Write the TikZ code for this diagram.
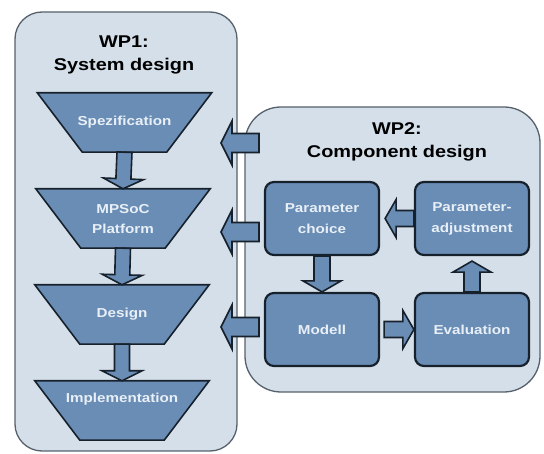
\documentclass[tikz,border=0pt]{standalone}
\usepackage{fontspec}
\setmainfont{Liberation Sans}[FakeStretch=1.17]
\usetikzlibrary{calc}
\pgfdeclarelayer{back}
\pgfdeclarelayer{mid}
\pgfsetlayers{back,mid,main}
\definecolor{panel}{HTML}{D4DFEA}
\definecolor{panelline}{HTML}{56616C}
\definecolor{boxfill}{HTML}{6A8DB6}
\definecolor{boxline}{HTML}{16212B}
\definecolor{boxtext}{HTML}{E8EFF6}
\tikzset{
  panelbox/.style={draw=panelline, fill=panel, line width=1.3pt, rounded corners=#1},
  wptitle/.style={font=\fontsize{17}{23}\selectfont\bfseries, align=center, text=black, inner sep=0pt},
  trapframe/.style={minimum width=174pt, minimum height=59pt, inner sep=0pt},
  traplabel/.style={font=\fontsize{13}{20}\selectfont\bfseries, text=boxtext, align=center, inner sep=0pt},
  trapshape/.style={draw=boxline, fill=boxfill, line width=1.6pt, line join=miter},
  comp/.style={draw=boxline, fill=boxfill, line width=2.2pt, rounded corners=9pt,
    minimum width=114pt, minimum height=73pt, align=center,
    font=\fontsize{13}{21}\selectfont\bfseries, text=boxtext, inner sep=0pt},
  barrowstyle/.style={draw=boxline, fill=boxfill, line width=1.6pt, line join=miter},
}
% block arrow: #1 tail, #2 tip, #3 shaft half width, #4 head half width, #5 head length
\newcommand\blockarrow[5]{%
  \path ($(#2)!#5!(#1)$) coordinate (hb);
  \draw[barrowstyle] ($(#1)!#3!90:(#2)$) -- ($(hb)!#3!90:(#2)$) -- ($(hb)!#4!90:(#2)$)
    -- (#2) -- ($(hb)!#4!-90:(#2)$) -- ($(hb)!#3!-90:(#2)$) -- ($(#1)!#3!-90:(#2)$) -- cycle;
}
\newcommand\trapdraw[1]{%
  \begin{pgfonlayer}{mid}
  \draw[trapshape] (#1.north west) -- (#1.north east) -- ($(#1.south east)+(-45,0)$)
    -- ($(#1.south west)+(45,0)$) -- cycle;
  \end{pgfonlayer}
}
\begin{document}
\begin{tikzpicture}[x=1pt,y=-1pt]
\useasboundingbox (0,0) rectangle (544,454);
% panels
\begin{pgfonlayer}{back}
\draw[panelbox=27pt] (15,12) rectangle (237,451);
\draw[panelbox=36pt] (245,107) rectangle (540,392);
\end{pgfonlayer}
% titles
\node[wptitle] (t1) at (124,55) {WP1:\\System design};
\node[wptitle] (t2) at (397,142) {WP2:\\Component design};
% WP1 trapezoids
\node[trapframe] (spez) at (124.5,122.5) {};
\node[trapframe] (mpsoc) at (123,218.5) {};
\node[trapframe] (design) at (122,314.5) {};
\node[trapframe] (impl) at (122,410.5) {};
\trapdraw{spez}\trapdraw{mpsoc}\trapdraw{design}\trapdraw{impl}
\node[traplabel] (spezt) at (spez) {Spezification};
\node[traplabel] (mpsoct) at ($(mpsoc)+(0,1)$) {MPSoC\\Platform};
\node[traplabel] (designt) at (design) {Design};
\node[traplabel] (implt) at ($(impl)+(0,-11)$) {Implementation};
\blockarrow{spez.south}{mpsoc.north}{7.5pt}{20pt}{10pt}
\blockarrow{mpsoc.south}{design.north}{7.5pt}{20pt}{10pt}
\blockarrow{design.south}{impl.north}{7.5pt}{20pt}{10pt}
% WP2 components
\node[comp] (pc) at (322,218.5) {Parameter\\choice};
\node[comp] (pa) at (472,218.5) {Parameter-\\adjustment};
\node[comp] (mod) at (322,329.5) {Modell};
\node[comp] (ev) at (472,329.5) {Evaluation};
\blockarrow{pa.west}{$(pc.east)+(5,0)$}{8pt}{19pt}{11pt}
\blockarrow{pc.south}{mod.north}{8pt}{19pt}{11pt}
\blockarrow{$(mod.east)+(4,0)$}{ev.west}{8pt}{19pt}{11pt}
\blockarrow{ev.north}{$(pa.south)+(0,5)$}{8pt}{19pt}{11pt}
% WP2 -> WP1 arrows
\coordinate (a1t) at (259,143); \coordinate (a1h) at (221,143);
\coordinate (a2t) at (259,232); \coordinate (a2h) at (221,232);
\coordinate (a3t) at (259,327); \coordinate (a3h) at (221,327);
\blockarrow{a1t}{a1h}{9.5pt}{22pt}{11pt}
\blockarrow{a2t}{a2h}{9.5pt}{22pt}{11pt}
\blockarrow{a3t}{a3h}{9.5pt}{22pt}{11pt}
\end{tikzpicture}
\end{document}
